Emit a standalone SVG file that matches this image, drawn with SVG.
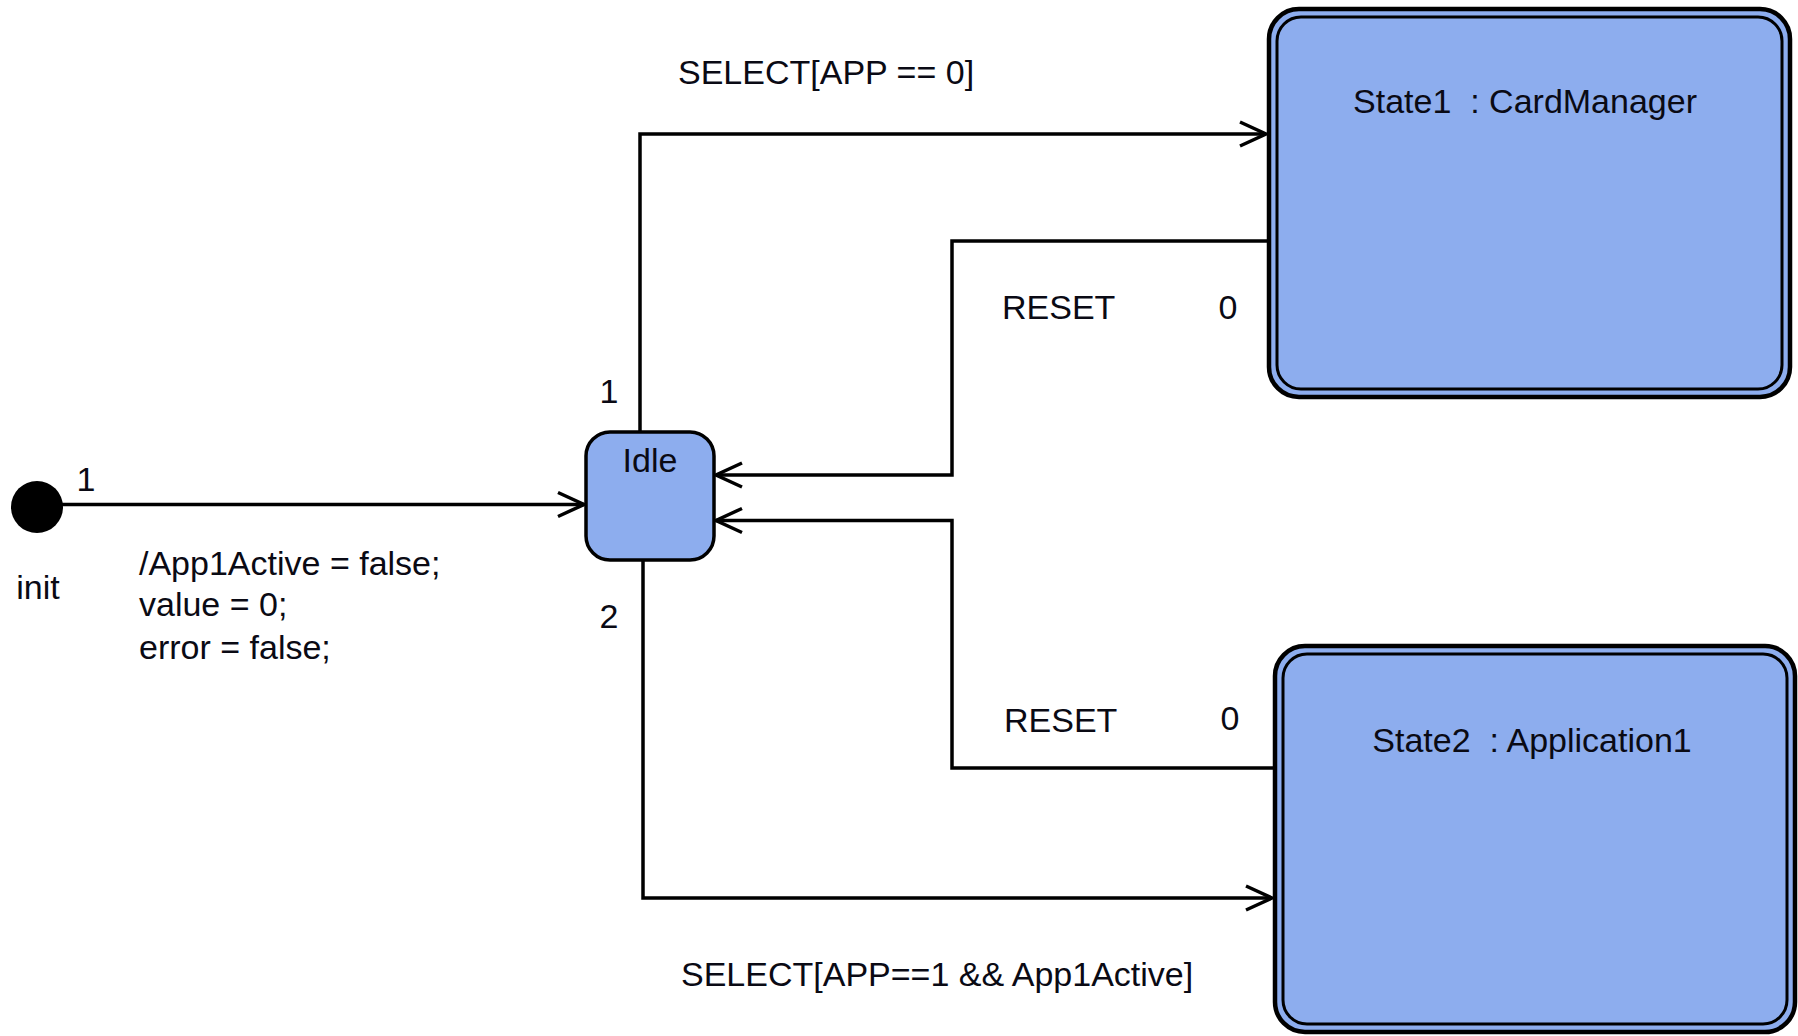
<svg xmlns="http://www.w3.org/2000/svg" width="1798" height="1036" viewBox="0 0 1798 1036">
<style>
text{font-family:"Liberation Sans",Arial,sans-serif;font-size:34px;fill:#0a0a14}
.pre{white-space:pre}
.st{fill:#8dadee;stroke:#000}
.ln{fill:none;stroke:#000;stroke-width:3.5}
</style>
<defs>
<marker id="arr" viewBox="0 0 30 30" refX="28" refY="15" markerWidth="30" markerHeight="30" markerUnits="userSpaceOnUse" orient="auto">
<path d="M2,3 L28,15 L2,27" fill="none" stroke="#000" stroke-width="3.5"/>
</marker>
</defs>
<rect width="1798" height="1036" fill="#fff"/>
<g id="connectors">
<path class="ln" d="M62,504.5 H584" marker-end="url(#arr)"/>
<path class="ln" d="M640,432 V134 H1266" marker-end="url(#arr)"/>
<path class="ln" d="M1268,241 H952 V475 H716" marker-end="url(#arr)"/>
<path class="ln" d="M1274,768 H952 V520.5 H716" marker-end="url(#arr)"/>
<path class="ln" d="M643,560 V898 H1272" marker-end="url(#arr)"/>
</g>
<g id="init">
<circle cx="37" cy="507" r="26" fill="#000"/>
<text x="38" y="599" text-anchor="middle">init</text>
</g>
<g id="idle">
<rect class="st" x="586" y="432" width="128" height="128" rx="24" stroke-width="3.5"/>
<text x="650" y="472" text-anchor="middle">Idle</text>
</g>
<g id="state1">
<rect class="st" x="1269" y="9" width="521" height="388" rx="30" stroke-width="4.5"/>
<rect class="st" x="1277" y="17" width="505" height="372" rx="24" stroke-width="3"/>
<text class="pre" x="1525" y="113" text-anchor="middle" xml:space="preserve">State1  : CardManager</text>
</g>
<g id="state2">
<rect class="st" x="1275" y="646" width="520" height="386" rx="30" stroke-width="4.5"/>
<rect class="st" x="1283" y="654" width="504" height="370" rx="24" stroke-width="3"/>
<text class="pre" x="1532" y="752" text-anchor="middle" xml:space="preserve">State2  : Application1</text>
</g>
<g id="labels">
<text x="86" y="491" text-anchor="middle">1</text>
<text x="139" y="575">/App1Active = false;</text>
<text x="139" y="616">value = 0;</text>
<text x="139" y="659">error = false;</text>
<text x="678" y="84">SELECT[APP == 0]</text>
<text x="609" y="403" text-anchor="middle">1</text>
<text x="609" y="628" text-anchor="middle">2</text>
<text x="1002" y="319">RESET</text>
<text x="1228" y="319" text-anchor="middle">0</text>
<text x="1004" y="732">RESET</text>
<text x="1230" y="730" text-anchor="middle">0</text>
<text x="681" y="986">SELECT[APP==1 &amp;&amp; App1Active]</text>
</g>
</svg>
